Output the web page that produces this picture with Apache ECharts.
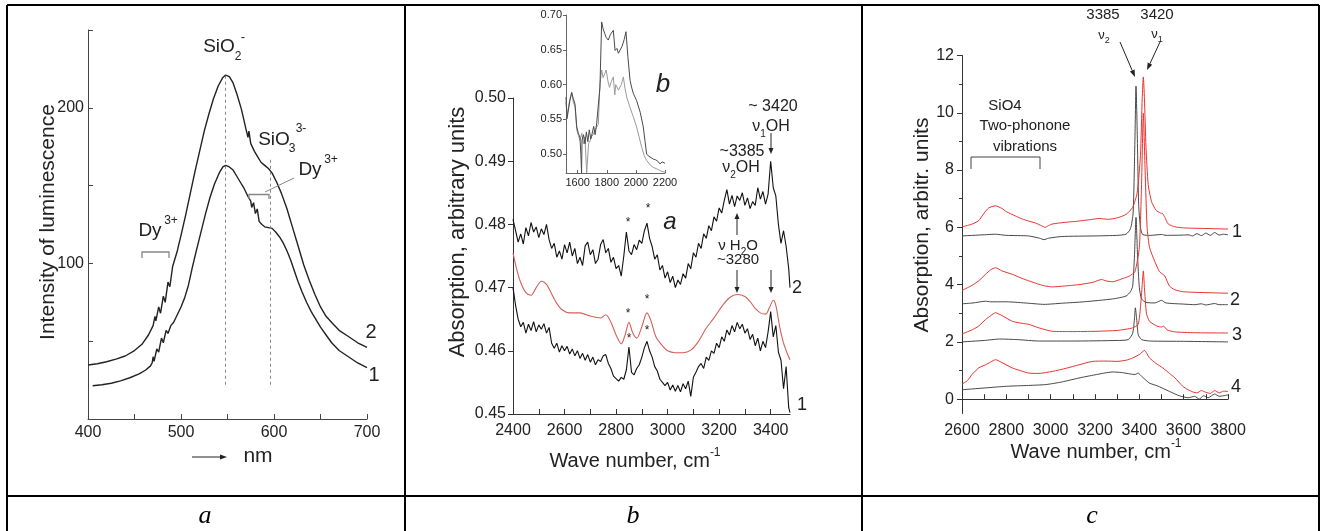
<!DOCTYPE html>
<html><head><meta charset="utf-8">
<script src="https://cdn.jsdelivr.net/npm/echarts@6/dist/echarts.min.js"></script>
<style>html,body{margin:0;padding:0;background:#fff}#c{width:1322px;height:531px}</style>
</head><body><div id="c"></div>
<script>
// ---------- Panel a: luminescence ----------
const aCurve2 = [[400,34.7],[410,35.5],[420,36.8],[430,38.5],[440,40.5],[450,44],[458,48],[465,54],[470,60],[472,66],[473,63],[476,72],[478,68],[481,79],[483,75],[486,88],[488,85],[491,98],[496,108],[500,118],[505,131],[510,145],[515,159],[520,172],[525,185],[530,196],[535,206],[540,214],[545,219.5],[548,221],[552,220],[556,216],[560,209],[565,199],[570,186],[572,181],[573,185],[575,177],[577,176],[579,172],[582,169],[586,165],[590,163],[594,161],[598,158],[603,152],[608,145],[614,135],[620,123],[626,111],[632,99],[638,89],[644,80],[650,72],[656,66],[662,62],[670,57],[680,53],[690,49],[700,46]];
const aCurve1 = [[405,21.4],[415,22],[425,23],[435,24.5],[445,26.5],[455,29],[462,31.5],[467,34],[469,36],[470,40],[471,37],[474,45],[476,43],[479,52],[481,49],[484,57],[486,55],[489,60],[492,62],[496,67],[500,72],[504,78],[508,86],[512,97],[516,107],[521,119],[526,131],[531,142],[536,151],[541,158],[545,162],[548,163],[552,162],[556,160],[560,156],[564,152],[568,148],[572,143],[575,140],[576,136],[578,139],[580,132],[582,135],[584,127],[587,125],[590,123.5],[594,123],[598,122.5],[602,120],[606,117],[610,113],[614,108],[618,102],[622,95],[626,88],[630,82],[635,75],[640,69],[645,64],[650,59],[656,54],[662,49],[670,44],[680,40],[690,36],[700,33]];
const aDashed = [[548,22,221],[596,22,168]];
const aXLabels = [400,500,600,700];
const aXTicks = [450,500,550,600,650,700];
const aYLabels = [100,200];
const aYTicks = [50,100,150,200,250];

// ---------- Panel b: IR absorption ----------
const bWave = [2400,2410,2420,2430,2440,2450,2460,2470,2480,2490,2500,2510,2520,2530,2540,2550,2560,2570,2580,2590,2600,2610,2620,2630,2640,2650,2660,2670,2680,2690,2700,2710,2720,2730,2740,2750,2760,2770,2780,2790,2800,2810,2820,2830,2840,2850,2860,2870,2880,2890,2900,2910,2920,2930,2940,2950,2960,2970,2980,2990,3000,3010,3020,3030,3040,3050,3060,3070,3080,3090,3100,3110,3120,3130,3140,3150,3160,3170,3180,3190,3200,3210,3220,3230,3240,3250,3260,3270,3280,3290,3300,3310,3320,3330,3340,3350,3360,3370,3380,3390,3400,3410,3420,3430,3440,3450,3460,3470,3475];
const bCurve2 = [.4808,.4790,.4772,.4785,.4769,.4795,.4782,.4803,.4788,.4796,.4779,.4793,.4784,.4800,.4776,.4762,.4770,.4748,.4758,.4745,.4768,.4755,.4772,.4750,.4762,.4738,.4748,.4735,.4766,.4772,.4752,.4760,.4738,.4745,.4768,.4776,.4755,.4762,.4740,.4748,.4730,.4735,.4718,.4750,.4788,.4758,.4752,.4768,.4760,.4775,.4770,.4790,.4802,.4778,.4765,.4745,.4752,.4728,.4735,.4715,.4725,.4708,.4718,.4700,.4712,.4705,.4722,.4715,.4738,.4730,.4755,.4748,.4770,.4762,.4785,.4778,.4798,.4790,.4812,.4805,.4826,.4818,.4838,.4855,.4832,.4846,.4828,.4845,.4838,.4850,.4830,.4842,.4825,.4836,.4830,.4858,.4840,.4852,.4832,.4848,.4900,.4858,.4845,.4800,.4770,.4790,.4765,.4730,.4700];
const bCurve1 = [.4700,.4672,.4650,.4638,.4645,.4628,.4642,.4632,.4646,.4630,.4641,.4634,.4643,.4628,.4637,.4612,.4604,.4612,.4598,.4608,.4600,.4607,.4595,.4603,.4592,.4600,.4588,.4596,.4585,.4594,.4582,.4590,.4578,.4586,.4583,.4592,.4594,.4580,.4572,.4560,.4556,.4552,.4558,.4555,.4570,.4606,.4566,.4562,.4572,.4578,.4590,.4605,.4615,.4600,.4590,.4575,.4568,.4555,.4550,.4545,.4550,.4538,.4546,.4536,.4545,.4535,.4548,.4540,.4552,.4528,.4558,.4566,.4575,.4580,.4572,.4590,.4585,.4600,.4596,.4612,.4605,.4622,.4615,.4633,.4625,.4640,.4630,.4645,.4635,.4642,.4628,.4635,.4618,.4626,.4608,.4620,.4600,.4615,.4605,.4630,.4662,.4622,.4640,.4598,.4585,.4540,.4575,.4510,.4502];
const bRed = [[2400,.4755],[2415,.4728],[2430,.4708],[2450,.4692],[2470,.4688],[2490,.4700],[2510,.4710],[2530,.4705],[2550,.4690],[2570,.4675],[2590,.4665],[2620,.4660],[2660,.4660],[2700,.4655],[2740,.4652],[2760,.4657],[2780,.4645],[2800,.4625],[2820,.4611],[2835,.4625],[2850,.4645],[2865,.4628],[2880,.4620],[2900,.4638],[2920,.4660],[2935,.4648],[2955,.4622],[2980,.4608],[3000,.4600],[3030,.4597],[3060,.4597],[3090,.4601],[3120,.4615],[3150,.4636],[3180,.4652],[3210,.4670],[3240,.4684],[3270,.4689],[3300,.4686],[3320,.4678],[3340,.4667],[3360,.4660],[3380,.4658],[3395,.4668],[3410,.4680],[3420,.4672],[3435,.4638],[3450,.4612],[3465,.4595],[3475,.4586]];
const bXLabels = [2400,2600,2800,3000,3200,3400];
const bXTicks = [2500,2600,2700,2800,2900,3000,3100,3200,3300,3400];
const bYLabels = [0.45,0.46,0.47,0.48,0.49,0.50];

// ---------- Panel b inset ----------
const inDark = [[1520,.582],[1527,.551],[1545,.575],[1559,.589],[1570,.580],[1582,.572],[1594,.539],[1605,.530],[1616,.524],[1622,.500],[1627,.473],[1630,.520],[1640,.528],[1650,.515],[1660,.532],[1670,.518],[1680,.535],[1690,.522],[1700,.530],[1710,.540],[1720,.528],[1731,.545],[1742,.544],[1753,.596],[1765,.690],[1775,.680],[1787,.673],[1795,.668],[1810,.664],[1825,.672],[1845,.678],[1857,.649],[1870,.652],[1880,.645],[1891,.645],[1905,.655],[1920,.665],[1932,.676],[1945,.640],[1960,.606],[1972,.595],[1983,.587],[2005,.577],[2030,.560],[2051,.539],[2062,.520],[2074,.500],[2090,.497],[2105,.495],[2120,.493],[2135,.492],[2150,.490],[2166,.486],[2180,.489],[2190,.487],[2200,.487]];
const inLight = [[1520,.575],[1527,.555],[1545,.578],[1559,.588],[1570,.575],[1582,.568],[1594,.535],[1605,.527],[1616,.520],[1628,.530],[1640,.515],[1650,.525],[1662,.473],[1668,.473],[1675,.515],[1685,.519],[1695,.525],[1708,.529],[1720,.535],[1731,.539],[1742,.543],[1753,.600],[1765,.621],[1775,.610],[1787,.616],[1796,.621],[1808,.605],[1819,.596],[1832,.605],[1845,.611],[1855,.585],[1862,.600],[1880,.592],[1900,.600],[1914,.611],[1925,.595],[1937,.582],[1960,.567],[1985,.552],[2005,.539],[2022,.525],[2040,.510],[2057,.498],[2074,.491],[2100,.484],[2120,.481],[2143,.479],[2170,.476],[2200,.474]];
const inXLabels = [1600,1800,2000,2200];
const inYLabels = [0.50,0.55,0.60,0.65,0.70];

// ---------- Panel c: spectra 1-4 ----------
const cRed1 = [[2600,6.02],[2640,6.10],[2675,6.23],[2700,6.50],[2721,6.68],[2751,6.75],[2780,6.66],[2800,6.55],[2840,6.40],[2872,6.29],[2900,6.22],[2932,6.15],[2960,6.05],[2975,6.00],[2990,6.06],[3010,6.12],[3060,6.17],[3128,6.22],[3180,6.27],[3219,6.31],[3260,6.28],[3300,6.33],[3340,6.45],[3370,6.70],[3390,7.2],[3405,8.5],[3413,10.5],[3418,11.25],[3423,10.5],[3430,8.8],[3440,7.5],[3455,6.9],[3475,6.6],[3495,6.5],[3505,6.48],[3515,6.35],[3530,6.12],[3560,6.02],[3600,5.98],[3700,5.96],[3800,5.94]];
const cBlack1 = [[2600,5.70],[2700,5.74],[2750,5.76],[2800,5.72],[2900,5.70],[2950,5.62],[2970,5.57],[2990,5.62],[3050,5.68],[3200,5.70],[3300,5.72],[3340,5.76],[3360,5.95],[3372,6.5],[3380,9.0],[3385,10.93],[3390,9.5],[3397,6.8],[3405,6.0],[3415,5.75],[3450,5.72],[3500,5.75],[3520,5.72],[3600,5.73],[3620,5.74],[3640,5.70],[3660,5.78],[3680,5.71],[3700,5.80],[3720,5.72],[3740,5.82],[3760,5.73],[3780,5.76],[3800,5.74]];
const cRed2 = [[2600,3.80],[2640,3.95],[2675,4.13],[2706,4.36],[2730,4.52],[2751,4.59],[2780,4.48],[2827,4.36],[2870,4.22],[2902,4.13],[2940,4.03],[2970,3.96],[3008,3.92],[3060,3.95],[3128,4.00],[3190,4.08],[3230,4.18],[3249,4.13],[3280,4.10],[3320,4.20],[3355,4.30],[3380,4.45],[3400,5.3],[3410,7.5],[3418,9.98],[3426,8.0],[3435,6.0],[3446,5.30],[3470,4.8],[3491,4.45],[3506,4.36],[3515,4.30],[3536,3.95],[3560,3.82],[3600,3.75],[3700,3.72],[3800,3.70]];
const cBlack2 = [[2600,3.33],[2650,3.36],[2706,3.42],[2730,3.40],[2800,3.40],[2900,3.35],[2970,3.31],[3050,3.35],[3150,3.40],[3279,3.50],[3340,3.60],[3360,3.75],[3370,3.95],[3378,5.0],[3385,6.35],[3392,5.0],[3400,3.9],[3410,3.50],[3430,3.38],[3470,3.36],[3500,3.45],[3520,3.36],[3600,3.32],[3650,3.30],[3680,3.33],[3700,3.29],[3740,3.34],[3760,3.30],[3800,3.30]];
const cRed3 = [[2600,2.28],[2640,2.40],[2675,2.55],[2706,2.78],[2730,2.92],[2751,3.02],[2780,2.92],[2827,2.72],[2870,2.65],[2902,2.61],[2947,2.49],[3008,2.37],[3100,2.36],[3200,2.37],[3300,2.40],[3370,2.49],[3395,2.62],[3405,3.2],[3413,4.0],[3418,4.48],[3423,3.9],[3432,3.0],[3446,2.72],[3480,2.55],[3500,2.52],[3510,2.55],[3525,2.42],[3560,2.35],[3650,2.32],[3800,2.31]];
const cBlack3 = [[2600,2.00],[2700,2.05],[2770,2.10],[2850,2.08],[2950,2.03],[3100,2.03],[3300,2.05],[3350,2.08],[3370,2.3],[3378,2.8],[3382,3.19],[3388,2.8],[3395,2.25],[3410,2.08],[3450,2.03],[3600,2.02],[3800,2.00]];
const cRed4 = [[2600,0.53],[2625,0.65],[2645,0.86],[2675,1.09],[2706,1.20],[2730,1.30],[2751,1.38],[2780,1.28],[2827,1.09],[2870,0.98],[2902,0.91],[2947,0.90],[3008,0.97],[3070,1.08],[3128,1.20],[3189,1.32],[3250,1.33],[3300,1.32],[3340,1.36],[3370,1.44],[3400,1.56],[3423,1.70],[3446,1.44],[3475,1.25],[3506,1.09],[3536,0.90],[3560,0.75],[3596,0.45],[3620,0.33],[3642,0.25],[3660,0.22],[3680,0.30],[3700,0.24],[3720,0.20],[3740,0.30],[3760,0.22],[3780,0.28],[3800,0.27]];
const cBlack4 = [[2600,0.33],[2700,0.39],[2800,0.45],[2900,0.48],[2978,0.51],[3050,0.60],[3128,0.74],[3200,0.85],[3279,0.95],[3320,0.93],[3360,0.88],[3380,0.86],[3395,0.91],[3410,0.80],[3446,0.56],[3480,0.47],[3536,0.27],[3580,0.12],[3620,0.05],[3650,0.10],[3670,0.00],[3690,0.12],[3710,0.05],[3740,0.18],[3760,0.10],[3800,0.15]];
const cXLabels = [2600,2800,3000,3200,3400,3600,3800];
const cXTicks = [2700,2800,2900,3000,3100,3200,3300,3400,3500,3600,3700,3800];
const cYLabels = [0,2,4,6,8,10,12];
const cYMinor = [1,3,5,7,9,11];

// ---------- styles ----------
const F = "'Liberation Sans', Arial, sans-serif";
const SERIF = "'Liberation Serif', 'Times New Roman', serif";
const TXT = '#222';

function axis(grid, min, max, labels, ticks, o) {
  o = o || {};
  const a = {
    type: 'value', gridIndex: grid, min: min, max: max,
    axisLine: {show: o.noLine ? false : true, lineStyle: {color: o.lineColor || '#333', width: 1}},
    axisTick: {show: true, customValues: ticks, inside: !!o.inside, length: o.tickLen || 5, lineStyle: {color: o.lineColor || '#333'}},
    axisLabel: {show: !o.noLabel, customValues: labels, fontFamily: F, fontSize: o.fs || 16, color: TXT, margin: o.margin || 6,
      formatter: o.fmt || (v => String(v))},
    splitLine: {show: false}
  };
  if (o.position) { a.position = o.position; a.offset = 0; }
  return a;
}
const f2 = v => v.toFixed(2);

const chart = echarts.init(document.getElementById('c'));

const grids = [
  {left: 88, top: 30, width: 279, height: 389},
  {left: 513, top: 98, width: 277, height: 316},
  {left: 566, top: 15, width: 99, height: 158},
  {left: 962, top: 55.5, width: 266, height: 358}
];

const xAxes = [
  axis(0, 400, 700, aXLabels, aXTicks, {inside: true, margin: 6, lineColor: '#444'}),
  axis(1, 2400, 3475, bXLabels, bXTicks, {inside: true, margin: 9}),
  axis(2, 1520, 2200, inXLabels, inXLabels, {inside: true, fs: 11, margin: 4, tickLen: 3, lineColor: '#666'}),
  axis(3, 2600, 3800, cXLabels, cXTicks, {inside: true, margin: 9})
];
const yAxes = [
  axis(0, 0, 250, aYLabels, aYTicks, {inside: true, margin: 4, lineColor: '#444'}),
  axis(1, 0.45, 0.50, bYLabels, bYLabels, {margin: 7, fmt: f2}),
  axis(2, 0.473, 0.70, inYLabels, inYLabels, {fs: 11, margin: 4, tickLen: 3, fmt: f2, lineColor: '#666'}),
  axis(3, -0.5, 12, cYLabels, cYLabels, {margin: 8, position: 'left'}),
  axis(3, -0.5, 12, [], cYMinor, {noLine: true, noLabel: true, tickLen: 3, position: 'left'})
];

function ln(x, y, data, color, width, extra) {
  return Object.assign({type: 'line', xAxisIndex: x, yAxisIndex: y, data: data, symbol: 'none',
    lineStyle: {color: color, width: width}, silent: true, animation: false, clip: true}, extra || {});
}
const zipB = ys => bWave.map((w, i) => [w, ys[i]]);

const RED_C = '#e8332f';
const series = [
  ln(0, 0, aCurve2, '#222', 1.4, {
    markLine: {silent: true, symbol: 'none', animation: false, label: {show: false},
      lineStyle: {color: '#888', type: [3, 3], width: 1},
      data: aDashed.map(d => [{coord: [d[0], d[1]]}, {coord: [d[0], d[2]]}])}
  }),
  ln(0, 0, aCurve1, '#222', 1.4),
  ln(1, 1, zipB(bCurve2), '#111', 1.1),
  ln(1, 1, zipB(bCurve1), '#111', 1.1),
  ln(1, 1, bRed, '#d2605a', 1.1, {smooth: 0.3}),
  ln(2, 2, inLight, '#9a9a9a', 1),
  ln(2, 2, inDark, '#4a4a4a', 1),
  ln(3, 3, cBlack1, '#333', 0.9, {smooth: 0.2}),
  ln(3, 3, cRed1, RED_C, 1, {smooth: 0.2}),
  ln(3, 3, cBlack2, '#333', 0.9, {smooth: 0.2}),
  ln(3, 3, cRed2, RED_C, 1, {smooth: 0.2}),
  ln(3, 3, cBlack3, '#333', 0.9, {smooth: 0.2}),
  ln(3, 3, cRed3, RED_C, 1, {smooth: 0.2}),
  ln(3, 3, cBlack4, '#333', 0.9, {smooth: 0.2}),
  ln(3, 3, cRed4, RED_C, 1, {smooth: 0.2})
];

// ---------- annotations ----------
const G = [];
function T(x, y, text, fs, o) {
  o = o || {};
  G.push({type: 'text', x: x, y: y, rotation: o.rot || 0, z: 50,
    style: {text: text, fontFamily: o.ff || F, fontSize: fs, fontStyle: o.italic ? 'italic' : 'normal',
      fill: o.color || TXT, align: o.align || 'center', verticalAlign: 'middle', rich: o.rich}});
}
function R(x, y, text, fs, sfs, o) {
  o = o || {};
  const lh = fs + 8;
  T(x, y, text, fs, Object.assign({}, o, {rich: {
    a: {fontFamily: F, fontSize: fs, lineHeight: lh, fill: TXT, verticalAlign: 'middle'},
    sub: {fontFamily: F, fontSize: sfs, lineHeight: lh, fill: TXT, verticalAlign: 'bottom'},
    sup: {fontFamily: F, fontSize: sfs, lineHeight: lh, fill: TXT, verticalAlign: 'top'}
  }}));
}
function L(x1, y1, x2, y2, color, w, dash) {
  G.push({type: 'line', z: 50, shape: {x1, y1, x2, y2}, style: {stroke: color || '#222', lineWidth: w || 1, lineDash: dash || null}});
}
function P(points, color, w) {
  G.push({type: 'polyline', z: 50, shape: {points: points}, style: {stroke: color || '#222', lineWidth: w || 1, fill: null}});
}
function A(x1, y1, x2, y2, len, hw) {
  len = len || 7; hw = hw || 3;
  const dx = x2 - x1, dy = y2 - y1, Ln = Math.hypot(dx, dy), ux = dx / Ln, uy = dy / Ln;
  const bx = x2 - ux * len, by = y2 - uy * len;
  L(x1, y1, bx, by, '#222', 1);
  G.push({type: 'polygon', z: 50, shape: {points: [[x2, y2], [bx - uy * hw, by + ux * hw], [bx + uy * hw, by - ux * hw]]}, style: {fill: '#222'}});
}

// table frame
const FR = '#000';
L(7, 5, 1319, 5, FR, 2);
L(7, 5, 7, 531, FR, 2);
L(405, 5, 405, 531, FR, 2);
L(862, 5, 862, 531, FR, 2);
L(1319, 5, 1319, 531, FR, 2);
L(7, 496, 1319, 496, FR, 2);
T(205, 516, 'a', 26, {ff: SERIF, italic: true, color: '#000'});
T(633, 516, 'b', 26, {ff: SERIF, italic: true, color: '#000'});
T(1092, 516, 'c', 26, {ff: SERIF, italic: true, color: '#000'});

// panel a texts
T(48, 222, 'Intensity of luminescence', 21, {rot: Math.PI / 2});
A(192, 457, 227, 457, 7, 2.5);
T(258, 456, 'nm', 21);
T(371, 332, '2', 20);
T(374, 375, '1', 20);
T(219, 47, 'SiO', 19);
T(238, 57, '2', 12);
T(243, 37, '-', 13);
T(274, 140, 'SiO', 19);
T(292, 149, '3', 12);
T(301, 129, '3-', 12);
T(310, 170, 'Dy', 19);
T(331, 160, '3+', 12);
T(150, 231, 'Dy', 19);
T(171, 221, '3+', 12);
P([[142, 258], [142, 252], [169, 252], [169, 258]], '#888', 1.3);
P([[249, 199], [249, 194.5], [269, 194.5], [269, 199]], '#888', 1.3);
L(265, 192, 294, 178, '#888', 1);

// panel b texts
T(458, 232, 'Absorption, arbitrary units', 22, {rot: Math.PI / 2});
R(635, 461, '{a|Wave number, cm}{sup|-1}', 20, 12);
T(663, 85, 'b', 26, {italic: true});
T(670, 222, 'a', 24, {italic: true});
T(773, 107, '~ 3420', 16);
R(771, 127, '{a|ν}{sub|1}{a|OH}', 16, 10);
A(771, 133, 771, 154, 6, 2.5);
T(742, 152, '~3385', 16);
R(741, 168, '{a|ν}{sub|2}{a|OH}', 16, 10);
R(738, 246, '{a|ν H}{sub|2}{a|O}', 15, 10);
T(738, 260, '~3280', 15);
A(737, 235, 737, 213, 6, 2.5);
A(737, 270, 737, 293, 6, 2.5);
A(771, 270, 771, 293, 6, 2.5);
[[628, 223], [648, 209], [628, 314], [647, 300], [629, 339], [647, 331]].forEach(p => T(p[0], p[1], '*', 12));
T(797, 288, '2', 18);
T(802, 405, '1', 18);

// panel c texts
T(922, 225, 'Absorption, arbitr. units', 21, {rot: Math.PI / 2});
R(1096, 452, '{a|Wave number, cm}{sup|-1}', 20, 12);
T(1103, 15, '3385', 15);
T(1157, 15, '3420', 15);
R(1104, 35, '{a|ν}{sub|2}', 13, 9);
R(1157, 34, '{a|ν}{sub|1}', 13, 9);
A(1120, 42, 1135, 77, 7, 2.5);
A(1160, 42, 1147, 70, 7, 2.5);
T(1005, 106, 'SiO4', 15);
T(1025, 126, 'Two-phonone', 15);
T(1025, 147, 'vibrations', 15);
P([[971, 169], [971, 157], [1040, 157], [1040, 169]], '#444', 1);
T(1237, 232, '1', 18);
T(1235, 300, '2', 18);
T(1237, 335, '3', 18);
T(1236, 387, '4', 18);

chart.setOption({
  animation: false,
  backgroundColor: '#fff',
  grid: grids,
  xAxis: xAxes,
  yAxis: yAxes,
  series: series,
  graphic: G
});
</script></body></html>
